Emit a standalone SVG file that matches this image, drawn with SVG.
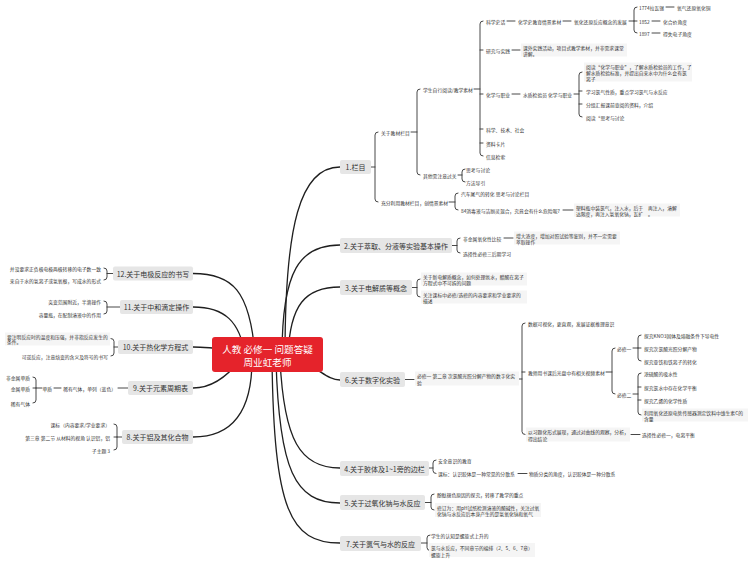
<svg xmlns="http://www.w3.org/2000/svg" width="750" height="562" viewBox="0 0 750 562">
<style>
text{font-family:"Noto Sans CJK SC","Noto Sans",sans-serif}
.c{fill:none;stroke:#1f1f1f;stroke-width:1.3}
.l{fill:none;stroke:#333;stroke-width:0.9;stroke-linecap:round}
.b{fill:#e6e6e6}
.bt{font-size:7px;fill:#333;text-anchor:middle;dominant-baseline:central}
.t{font-size:4.8px;fill:#333;dominant-baseline:central}
.e{text-anchor:end}
.nb{fill:#f5f5f5}
.ct{font-size:9.6px;fill:#fff;text-anchor:middle;dominant-baseline:central}
</style>
<rect width="750" height="562" fill="#fff"/>
<g id="connectors">
<path class="c" d="M285,355 C285,225 300,167 340,167"/>
<path class="c" d="M282,355 C282,270 300,245 340,245"/>
<path class="c" d="M288,355 C290,305 305,287 340,287"/>
<path class="c" d="M295,360 C318,366 326,380 340,380"/>
<path class="c" d="M280,360 C284,440 300,468 340,468"/>
<path class="c" d="M276,360 C279,470 295,503 340,503"/>
<path class="c" d="M272,360 C274,510 290,543 340,543"/>
<path class="c" d="M255,355 C250,290 232,273.5 193,273.5"/>
<path class="c" d="M245,355 C240,322 225,307 193,307"/>
<path class="c" d="M235,350 C215,348 205,347 193,347"/>
<path class="c" d="M240,360 C226,378 210,388 193,388"/>
<path class="c" d="M252,360 C252,412 232,437 193,437"/>
<path class="l" d="M371,167 H375 M378,132 Q375,132 375,135 V199 Q375,202 378,202"/>
<path class="l" d="M411,132 H417 M420,89 Q417,89 417,92 V172 Q417,175 420,175"/>
<path class="l" d="M474,89 H480 M483,21 Q480,21 480,24 V153 Q480,156 483,156 M480,50 h3 M480,94 h3 M480,129 h3 M480,143 h3"/>
<path class="l" d="M507,21 H515 M563,21 H571 M629,21 H634 M637,7 Q634,7 634,10 V30 Q634,33 637,33 M634,21 h3"/>
<path class="l" d="M666,7 H674 M652,21 H660 M652,33 H660"/>
<path class="l" d="M512,50 H520 M512,94 H520 M574,94 H579 M582,72 Q579,72 579,75 V114 Q579,117 582,117 M579,91 h3 M579,104 h3"/>
<path class="l" d="M458,175 H462 M465,169 Q462,169 462,172 V179 Q462,182 465,182"/>
<path class="l" d="M449,202 H455 M458,193 Q455,193 455,196 V207 Q455,210 458,210 M563,210 H573"/>
<path class="l" d="M452,245.5 H457 M460,238 Q457,238 457,241 V250 Q457,253 460,253 M504,238 H513"/>
<path class="l" d="M412,287.5 H417 M420,279 Q417,279 417,282 V294 Q417,297 420,297"/>
<path class="l" d="M405,379.5 H414 M519,379 H522 M525,323 Q522,323 522,326 V431.5 Q522,434.5 525,434.5 M522,372 h3"/>
<path class="l" d="M606,372 H612 M615,348 Q612,348 612,351 V391 Q612,394 615,394"/>
<path class="l" d="M633,348 H638 M641,335 Q638,335 638,338 V358 Q638,361 641,361 M638,348 h3"/>
<path class="l" d="M633,394 H638 M641,373 Q638,373 638,376 V412 Q638,415 641,415 M638,387 h3 M638,400 h3"/>
<path class="l" d="M631,434.5 H640"/>
<path class="l" d="M429,468 H433 M436,460 Q433,460 433,463 V470.5 Q433,473.5 436,473.5 M518,473.5 H527"/>
<path class="l" d="M425,502.5 H431 M434,494 Q431,494 431,497 V507 Q431,510 434,510"/>
<path class="l" d="M421,543 H427 M430,535 Q427,535 427,538 V547.5 Q427,550.5 430,550.5"/>
<path class="l" d="M113,273.5 H107 M104,268 Q107,268 107,271 V277 Q107,280 104,280"/>
<path class="l" d="M120,307 H107 M104,301 Q107,301 107,304 V311 Q107,314 104,314"/>
<path class="l" d="M118,347 H114 M111,338.5 Q114,338.5 114,341.5 V353 Q114,356 111,356"/>
<path class="l" d="M128,388 H118 M61,388 H54 M42,388 H36 M33,377 Q36,377 36,380 V400 Q36,403 33,403 M36,388 h-3"/>
<path class="l" d="M122,437 H117 M114,424 Q117,424 117,427 V447 Q117,450 114,450 M117,437 h-3"/>
</g>

<g id="center"><rect x="212" y="337" width="111" height="35" rx="3" fill="#e5232b"/><text class="ct" x="267.5" y="349">人教 必修一 问题答疑</text><text class="ct" x="267.5" y="362">周业虹老师</text></g>

<g id="b1"><rect class="b" x="340" y="160" width="31" height="14" rx="2"/><text class="bt" x="355.5" y="167">1.栏目</text></g>
<g id="b2"><rect class="b" x="340" y="238" width="112" height="15" rx="2"/><text class="bt" x="396" y="245.5">2.关于萃取、分液等实验基本操作</text></g>
<g id="b3"><rect class="b" x="340" y="280" width="72" height="15" rx="2"/><text class="bt" x="376" y="287.5">3.关于电解质等概念</text></g>
<g id="b6"><rect class="b" x="340" y="372" width="65" height="15" rx="2"/><text class="bt" x="372.5" y="379.5">6.关于数字化实验</text></g>
<g id="b4"><rect class="b" x="340" y="461" width="89" height="15" rx="2"/><text class="bt" x="384.5" y="468.5">4.关于胶体及1~1旁的边栏</text></g>
<g id="b5"><rect class="b" x="340" y="495" width="85" height="15" rx="2"/><text class="bt" x="382.5" y="502.5">5.关于过氧化钠与水反应</text></g>
<g id="b7"><rect class="b" x="340" y="536" width="81" height="15" rx="2"/><text class="bt" x="380.5" y="543.5">7.关于氯气与水的反应</text></g>
<g id="b12"><rect class="b" x="113" y="266.5" width="80" height="14" rx="2"/><text class="bt" x="153" y="273.5">12.关于电极反应的书写</text></g>
<g id="b11"><rect class="b" x="120" y="300" width="73" height="14" rx="2"/><text class="bt" x="156.5" y="307">11.关于中和滴定操作</text></g>
<g id="b10"><rect class="b" x="118" y="340" width="75" height="14" rx="2"/><text class="bt" x="155.5" y="347">10.关于热化学方程式</text></g>
<g id="b9"><rect class="b" x="128" y="381" width="65" height="14" rx="2"/><text class="bt" x="160.5" y="388">9.关于元素周期表</text></g>
<g id="b8"><rect class="b" x="122" y="430" width="71" height="14" rx="2"/><text class="bt" x="157.5" y="437">8.关于铝及其化合物</text></g>

<g id="n1a"><text class="t" x="381" y="132">关于教材栏目</text></g>
<g id="n1b"><text class="t" x="423" y="89">学生自行阅读/教学素材</text></g>
<g id="n1c"><text class="t" x="486" y="21">科学史话</text></g>
<g id="n1d"><text class="t" x="518" y="21">化学史教育情景素材</text></g>
<g id="n1e"><text class="t" x="574" y="21">氧化还原反应概念的发展</text></g>
<g id="n1f"><text class="t" x="639" y="7">1774拉瓦锡</text></g>
<g id="n1g"><text class="t" x="677" y="7">氧气还原氧化铜</text></g>
<g id="n1h"><text class="t" x="639" y="21">1852</text></g>
<g id="n1i"><text class="t" x="663" y="21">化合价角度</text></g>
<g id="n1j"><text class="t" x="639" y="33">1897</text></g>
<g id="n1k"><text class="t" x="663" y="33">得失电子角度</text></g>
<g id="n1l"><text class="t" x="486" y="50">研究与实践</text></g>
<g id="n1m"><rect class="nb" x="521" y="43.5" width="106" height="13"/><text class="t" x="523" y="47">课外实践活动，项目式教学素材，并非需求课堂</text><text class="t" x="523" y="53">讲解。</text></g>
<g id="n1n"><text class="t" x="486" y="94">化学与职业</text></g>
<g id="n1o"><text class="t" x="523" y="94">水质检验员 化学与职业</text></g>
<g id="n1p"><rect class="nb" x="584" y="62.5" width="108" height="19"/><text class="t" x="586" y="66">阅读“化学与职业”，了解水质检验员的工作，了</text><text class="t" x="586" y="72">解水质检验标准，并提出自来水中为什么会有氯</text><text class="t" x="586" y="78">离子</text></g>
<g id="n1q"><text class="t" x="586" y="91">学习氯气性质，重点学习氯气与水反应</text></g>
<g id="n1r"><text class="t" x="586" y="104">分组汇报课前查阅的资料，介绍</text></g>
<g id="n1s"><text class="t" x="586" y="117">阅读“思考与讨论</text></g>
<g id="n1t"><text class="t" x="486" y="129">科学、技术、社会</text></g>
<g id="n1u"><text class="t" x="486" y="143">资料卡片</text></g>
<g id="n1v"><text class="t" x="486" y="156">信息检索</text></g>
<g id="n1w"><text class="t" x="423" y="175">其他需注意过关</text></g>
<g id="n1x"><text class="t" x="466" y="169">思考与讨论</text></g>
<g id="n1y"><text class="t" x="466" y="182">方法导引</text></g>
<g id="n1z"><text class="t" x="381" y="202">充分利用教材栏目，创情景素材</text></g>
<g id="n1aa"><text class="t" x="461" y="193">汽车尾气的转化 思考与讨论栏目</text></g>
<g id="n1ab"><text class="t" x="461" y="210">84消毒液与洁厕灵混合，究竟会有什么危险呢?</text></g>
<g id="n1ac"><rect class="nb" x="574" y="203.5" width="106" height="13"/><text class="t" x="576" y="207">塑料瓶中装氯气，注入水，后于　再注入，溶解</text><text class="t" x="576" y="213">达限度，再注入氢氧化钠，瓦扩　。</text></g>

<g id="n2a"><text class="t" x="463" y="238">非金属氧化性比较</text></g>
<g id="n2b"><rect class="nb" x="514" y="231.5" width="106" height="13"/><text class="t" x="516" y="235">增大浓度，增加对照试验等鉴别，并不一定需要</text><text class="t" x="516" y="241">萃取操作</text></g>
<g id="n2c"><text class="t" x="463" y="253">选择性必修三后期学习</text></g>

<g id="n3a"><rect class="nb" x="421" y="272.5" width="106" height="13"/><text class="t" x="423" y="276">关于新电解质概念，如何处理氨水，醋酸在离子</text><text class="t" x="423" y="282">方程式中不可拆的问题</text></g>
<g id="n3b"><rect class="nb" x="421" y="290.5" width="106" height="13"/><text class="t" x="423" y="294">关注课标中必修/选修的内容要求和学业要求的</text><text class="t" x="423" y="300">描述</text></g>

<g id="n6a"><rect class="nb" x="415" y="371.5" width="104" height="14"/><text class="t" x="417" y="375.5">必修一 第二章 次氯酸光照分解产物的数字化实</text><text class="t" x="417" y="382">验</text></g>
<g id="n6b"><text class="t" x="528" y="323">数据可视化，更直观，发展证据推理意识</text></g>
<g id="n6c"><text class="t" x="528" y="372">教师用书课后光盘中有相关视频素材</text></g>
<g id="n6d"><text class="t" x="617" y="348">必修一</text></g>
<g id="n6e"><text class="t" x="644" y="335">探究KNO3固体及熔融条件下导电性</text></g>
<g id="n6f"><text class="t" x="644" y="348">探究次氯酸光照分解产物</text></g>
<g id="n6g"><text class="t" x="644" y="361">探究亚铁和铁离子的转化</text></g>
<g id="n6h"><text class="t" x="617" y="394">必修二</text></g>
<g id="n6i"><text class="t" x="644" y="373">浓硫酸的吸水性</text></g>
<g id="n6j"><text class="t" x="644" y="387">探究氯水中存在化学平衡</text></g>
<g id="n6k"><text class="t" x="644" y="400">探究乙烯的化学性质</text></g>
<g id="n6l"><rect class="nb" x="642" y="408.5" width="106" height="13"/><text class="t" x="644" y="412">利用氧化还原电势传感器测定饮料中维生素C的</text><text class="t" x="644" y="418">含量</text></g>
<g id="n6m"><rect class="nb" x="526" y="427.5" width="104" height="14"/><text class="t" x="528" y="431.5">以习题化形式展现，通过对曲线的观察，分析，</text><text class="t" x="528" y="438">得出结论</text></g>
<g id="n6n"><text class="t" x="642" y="434.5">选择性必修一，电离平衡</text></g>

<g id="n4a"><text class="t" x="438" y="460">安全意识的教育</text></g>
<g id="n4b"><text class="t" x="438" y="473.5">课标：认识胶体是一种常见的分散系</text></g>
<g id="n4c"><text class="t" x="529" y="473.5">物质分类的角度，认识胶体是一种分散系</text></g>

<g id="n5a"><text class="t" x="437" y="494">酚酞褪色原因的探究，转移了教学的重点</text></g>
<g id="n5b"><rect class="nb" x="435" y="503" width="106" height="14"/><text class="t" x="437" y="507">修订为：用pH试纸检测溶液的酸碱性，关注过氧</text><text class="t" x="437" y="513.5">化钠与水反应后本身产生的是氢氧化钠和氧气</text></g>

<g id="n7a"><text class="t" x="431" y="535">学生的认知是螺旋式上升的</text></g>
<g id="n7b"><rect class="nb" x="429" y="543" width="106" height="14"/><text class="t" x="431" y="547">氯与水反应，不同章节的编排（2、5、6、7章）</text><text class="t" x="431" y="554">螺旋上升</text></g>

<g id="n12a"><text class="t e" x="101" y="268">并没要求正负极电极两极转移的电子数一致</text></g>
<g id="n12b"><text class="t e" x="101" y="280">来自于水的氢离子或氢氧根，写成水的形式</text></g>
<g id="n11a"><text class="t e" x="101" y="301">突变范围附近，半滴操作</text></g>
<g id="n11b"><text class="t e" x="101" y="314">容量瓶，在配制溶液中的作用</text></g>
<g id="n10a"><rect class="nb" x="5" y="332.5" width="105" height="13"/><text class="t" x="7" y="336">要注明反应时的温度和压强，并非指反应发生的</text><text class="t" x="7" y="341.5">条件。</text></g>
<g id="n10b"><text class="t e" x="108" y="356">可逆反应，注意焓变的含义及符号的书写</text></g>
<g id="n9a"><text class="t e" x="116" y="388">稀有气体，单列（蓝色）</text></g>
<g id="n9b"><text class="t e" x="52" y="388">单质</text></g>
<g id="n9c"><text class="t e" x="30" y="377">非金属单质</text></g>
<g id="n9d"><text class="t e" x="30" y="388">金属单质</text></g>
<g id="n9e"><text class="t e" x="30" y="403">稀有气体</text></g>
<g id="n8a"><text class="t e" x="110" y="424">课标（内容要求/学业要求）</text></g>
<g id="n8b"><text class="t e" x="110" y="437">第三章 第二节 从材料的视角 认识铝，铝</text></g>
<g id="n8c"><text class="t e" x="110" y="450">子主题 3</text></g>
</svg>
